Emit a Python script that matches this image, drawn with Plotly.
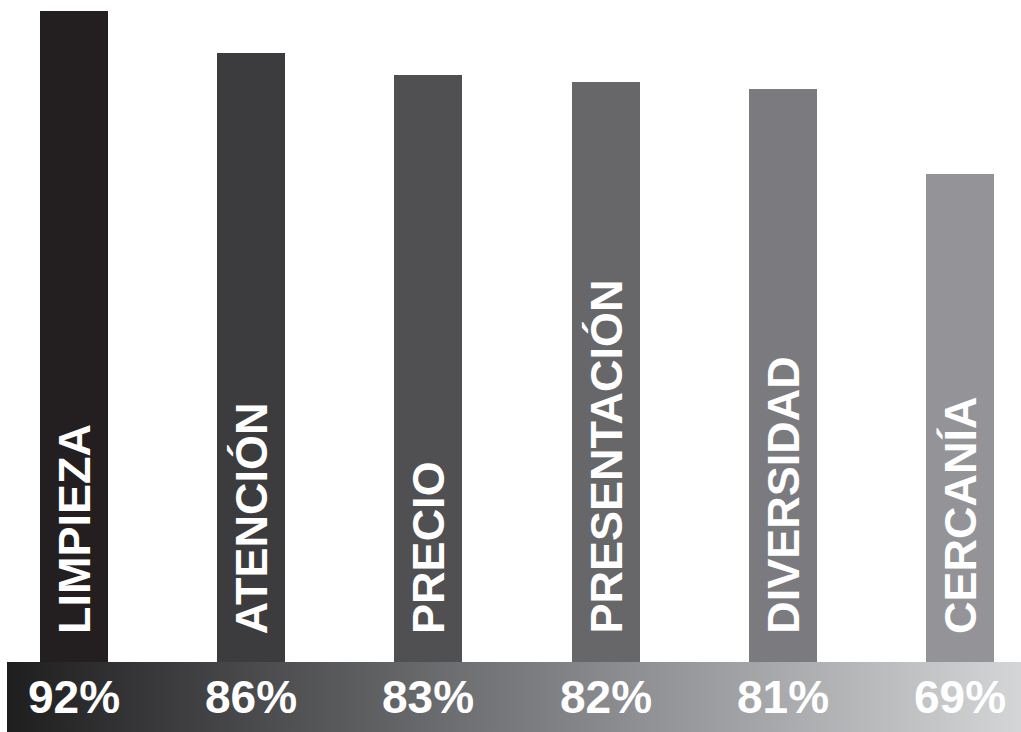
import plotly.graph_objects as go

categories = ["LIMPIEZA", "ATENCIÓN", "PRECIO", "PRESENTACIÓN", "DIVERSIDAD", "CERCANÍA"]
values = [92, 86, 83, 82, 81, 69]
pct_labels = ["92%", "86%", "83%", "82%", "81%", "69%"]
bar_colors = ["#231f20", "#3c3c3e", "#505053", "#67676a", "#7b7b7f", "#949498"]

W, H = 1021, 732
px_per_unit = 7.076     # vertical pixels per percentage point
zero_px = 662           # pixel row of value 0
spacing = 177.2         # pixel distance between bar centres
first_center = 74
bar_px = 68
band_left_px = 7

y_min = -(H - zero_px) / px_per_unit
y_max = zero_px / px_per_unit
x_min = -first_center / spacing
x_max = (W - first_center) / spacing
x_band_left = x_min + band_left_px / spacing

idx = list(range(len(categories)))

fig = go.Figure()

# gradient band below the bars
fig.add_trace(go.Scatter(
    x=[x_band_left, x_max, x_max, x_band_left, x_band_left],
    y=[y_min, y_min, 0, 0, y_min],
    mode="lines", line=dict(width=0), fill="toself",
    fillgradient=dict(type="horizontal",
                      colorscale=[[0, "#1e1e1f"], [0.5, "#78797c"], [1, "#d4d5d7"]]),
    hoverinfo="skip", showlegend=False,
))

fig.add_trace(go.Bar(
    x=idx, y=values, width=bar_px / spacing,
    marker=dict(color=bar_colors, line=dict(width=0)),
    showlegend=False, hoverinfo="skip",
))

font_family = "Liberation Sans, Arial, sans-serif"
for i, (cat, lab) in enumerate(zip(categories, pct_labels)):
    fig.add_annotation(
        x=i, y=26 / px_per_unit, xref="x", yref="y",
        text="<b>%s</b>" % cat, textangle=-90, showarrow=False,
        xanchor="center", yanchor="bottom",
        font=dict(family=font_family, size=45, color="white"),
    )
    fig.add_annotation(
        x=i, y=-35 / px_per_unit, xref="x", yref="y",
        text="<b>%s</b>" % lab, showarrow=False,
        xanchor="center", yanchor="middle",
        font=dict(family=font_family, size=46, color="white"),
    )

fig.update_layout(
    width=W, height=H,
    margin=dict(l=0, r=0, t=0, b=0),
    paper_bgcolor="white", plot_bgcolor="white",
    xaxis=dict(range=[x_min, x_max], visible=False, fixedrange=True),
    yaxis=dict(range=[y_min, y_max], visible=False, fixedrange=True),
    bargap=0,
)

fig.write_html(
    "out.html",
    config={"displayModeBar": False},
    post_script="document.body.style.margin='0';document.body.style.overflow='hidden';",
)
